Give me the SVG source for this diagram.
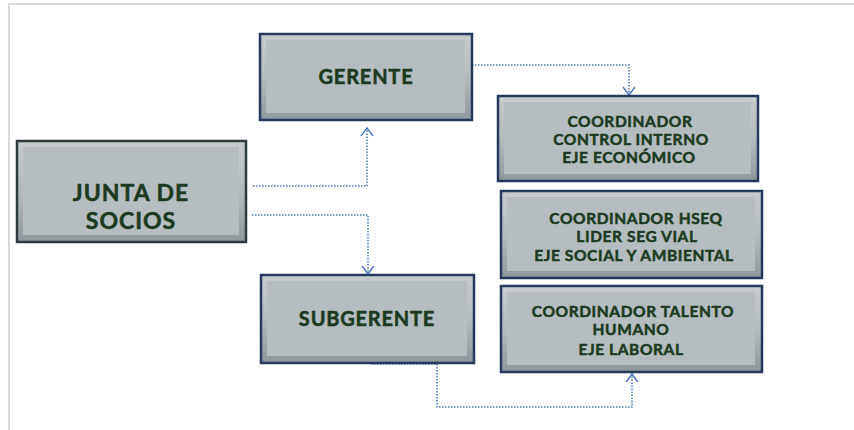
<svg xmlns="http://www.w3.org/2000/svg" width="854" height="430" viewBox="0 0 854 430">
<defs>
<linearGradient id="bev" x1="0" y1="0" x2="0" y2="1">
<stop offset="0" stop-color="#c9cccd"/>
<stop offset="0.5" stop-color="#b3bbbe"/>
<stop offset="1" stop-color="#8e979b"/>
</linearGradient>
<marker id="arr" viewBox="-10 -7 12 14" markerWidth="12" markerHeight="14" refX="0" refY="0" orient="auto" markerUnits="userSpaceOnUse">
<path d="M-8,-6 L0,0 L-8,6" fill="none" stroke="#4a78c0" stroke-width="1.4"/>
</marker>
</defs>
<style>
.outer{fill:url(#bev);stroke:#25395c;stroke-width:2.5}
.outer2{fill:url(#bev);stroke:#2c3b3e;stroke-width:2.5}
.inner{fill:#b5bdc0}
.t{font-family:Lato,"Liberation Sans",sans-serif;font-weight:bold;fill:#1b3a20;stroke:#1b3a20;stroke-width:0.5;text-anchor:middle}
.big{font-size:20px;letter-spacing:0.8px}
.huge{font-size:23px;letter-spacing:1px}
.sm{font-size:15.5px;letter-spacing:0.6px}
.conn{fill:none;stroke:#4a78c0;stroke-width:1.5;stroke-dasharray:1.5 1.5}
</style>
<rect width="854" height="430" fill="#ffffff"/>
<path d="M9,430 L9,4 L854,4" fill="none" stroke="#d9d9d9" stroke-width="2"/>
<g id="connectors">
<path class="conn" d="M472,65 L629,65 L629,95" marker-end="url(#arr)"/>
<path class="conn" d="M253,186 L367,186 L367,128" marker-end="url(#arr)"/>
<path class="conn" d="M252,215 L368,215 L368,274" marker-end="url(#arr)"/>
<path class="conn" d="M371,364 L437,364 L437,407 L632,407 L632,374" marker-end="url(#arr)"/>
</g>
<g id="junta">
<rect class="outer2" x="17" y="141" width="229" height="101"/>
<rect class="inner" x="23" y="147" width="216" height="88"/>
<text class="t huge" x="131" y="200.5">JUNTA DE</text>
<text class="t huge" x="131" y="228.5">SOCIOS</text>
</g>
<g id="gerente">
<rect class="outer" x="260" y="34" width="212" height="86"/>
<rect class="inner" x="266" y="40" width="199" height="73"/>
<text class="t big" x="366" y="84">GERENTE</text>
</g>
<g id="subgerente">
<rect class="outer" x="261" y="275" width="213" height="88"/>
<rect class="inner" x="267" y="281" width="200" height="75"/>
<text class="t big" x="367" y="326">SUBGERENTE</text>
</g>
<g id="coord1">
<rect class="outer" x="498" y="96" width="260" height="85"/>
<rect class="inner" x="504" y="102" width="247" height="72"/>
<text class="t sm" x="630" y="127">COORDINADOR</text>
<text class="t sm" x="631" y="145">CONTROL INTERNO</text>
<text class="t sm" x="629" y="163">EJE ECONÓMICO</text>
</g>
<g id="coord2">
<rect class="outer" x="501" y="191" width="261" height="87"/>
<rect class="inner" x="507" y="197" width="248" height="74"/>
<text class="t sm" x="636" y="224">COORDINADOR HSEQ</text>
<text class="t sm" x="637" y="242">LIDER SEG VIAL</text>
<text class="t sm" x="634" y="261">EJE SOCIAL Y AMBIENTAL</text>
</g>
<g id="coord3">
<rect class="outer" x="501" y="286" width="261" height="86"/>
<rect class="inner" x="507" y="292" width="248" height="73"/>
<text class="t sm" x="633" y="317">COORDINADOR TALENTO</text>
<text class="t sm" x="631" y="335">HUMANO</text>
<text class="t sm" x="631" y="355">EJE LABORAL</text>
</g>
</svg>
